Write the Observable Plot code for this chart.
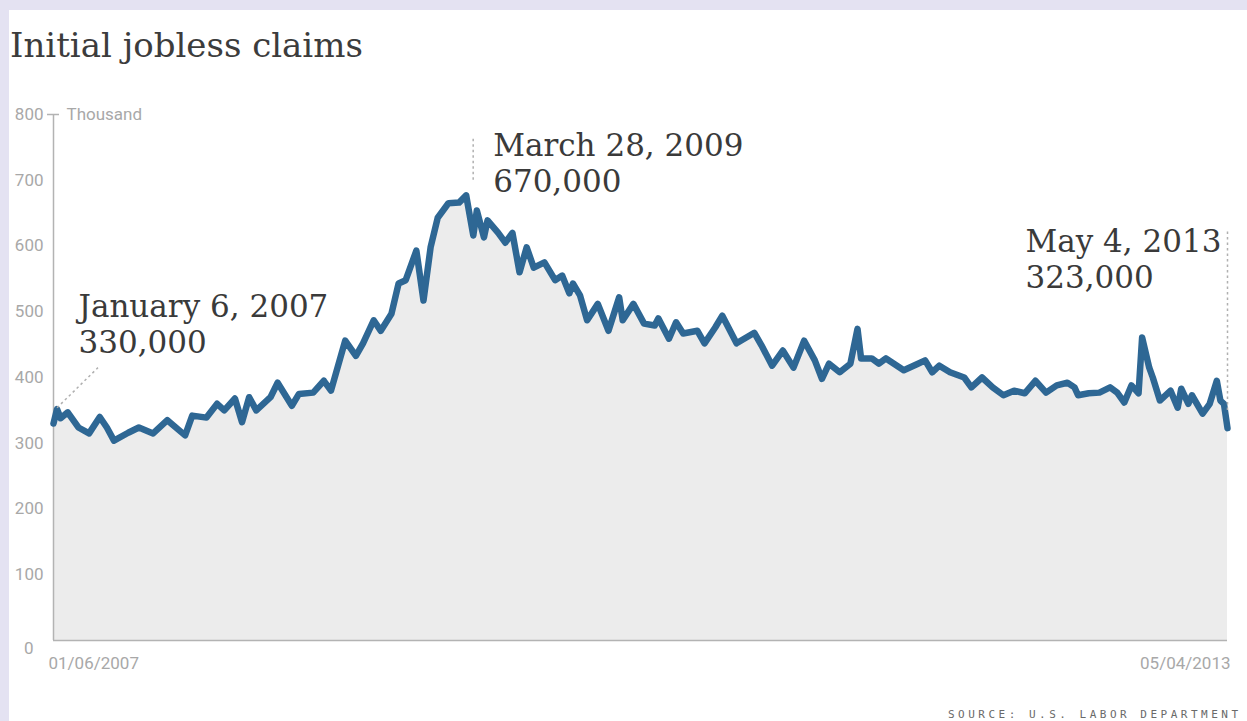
<!DOCTYPE html>
<html>
<head>
<meta charset="utf-8">
<script src="https://cdn.jsdelivr.net/npm/d3@7"></script>
<script src="https://cdn.jsdelivr.net/npm/@observablehq/plot@0.6"></script>
<style>
  html, body { margin: 0; padding: 0; }
  body { background: #e4e2f2; width: 1247px; height: 721px; overflow: hidden; position: relative; }
  #card { position: absolute; left: 9px; top: 10px; width: 1238px; height: 711px; background: #ffffff; }
  #title { position: absolute; left: 1px; top: 18px; margin: 0; font-family: "DejaVu Serif", serif; font-weight: normal;
           font-size: 34px; line-height: 34px; color: #3c3c3c; white-space: nowrap; }
  #chart { position: absolute; left: 0; top: 80px; }
  #source { position: absolute; left: 948px; top: 709px; font-family: "DejaVu Sans Mono", monospace; font-size: 11px;
            line-height: 11px; letter-spacing: 3.5px; color: #6a6a6a; white-space: nowrap; }
</style>
</head>
<body>
<div id="card">
  <h1 id="title"></h1>
  <div id="chart"></div>
</div>
<div id="source"></div>
<script>
// ---- Data ----
const titleText = "Initial jobless claims";
const sourceText = "SOURCE: U.S. LABOR DEPARTMENT";
const unitLabel = "Thousand";
const startDate = "2007-01-06"; // first weekly observation
// week offsets (weeks since startDate) of the sampled points
const weeks = [0,1,2,4,7,10,13,15,17,21,24,28,32,37,39,43,46,48,51,53,55,57,61,63,67,69,73,76,78,82,85,87,90,92,95,97,99,102,104,106,108,111,114,116,118,119,121,122,125,127,129,131,133,135,138,141,143,145,146,148,150,153,156,159,160,163,166,169,170,173,175,177,181,183,186,188,192,197,199,202,205,208,211,214,216,218,221,224,226,227,230,232,234,239,243,245,247,249,252,256,258,261,264,267,270,273,276,279,282,285,287,288,291,294,297,299,301,303,305,306,308,309,311,314,316,317,319,320,323,325,327,328,329,330];
// initial jobless claims, thousands
const claims = [330,352,338,347,324,315,340,324,304,316,324,315,335,312,342,339,360,350,368,332,370,350,370,392,357,375,377,395,380,456,433,452,487,471,497,543,548,593,517,598,643,665,666,677,616,654,613,639,620,605,620,560,598,567,575,548,555,528,543,525,487,512,471,522,487,512,482,479,490,459,484,467,471,452,476,494,452,468,449,418,441,415,456,426,398,421,408,421,474,429,429,421,429,411,421,426,408,418,408,400,385,400,385,373,380,376,395,377,388,392,385,373,376,377,385,377,362,388,376,461,415,400,365,380,354,383,360,373,345,360,395,365,360,323];
const yTicks = [100,200,300,400,500,600,700,800];
const yZeroTick = [0];
const xTickLabels = ["01/06/2007", "05/04/2013"];
const xTickWeeks = [0, 330];
const annotWeeks = [0, 116, 330];
const annotValues = [330, 670, 323];
const annotLabels = ["January 6, 2007\n330,000", "March 28, 2009\n670,000", "May 4, 2013\n323,000"];

// ---- Build ----
const t0 = new Date(startDate + "T00:00:00Z");
const weekDate = w => new Date(t0.getTime() + w * 7 * 864e5);
const data = weeks.map((w, i) => ({date: weekDate(w), value: claims[i]}));
const annotations = annotWeeks.map((w, i) => ({date: weekDate(w), value: annotValues[i], label: annotLabels[i]}));

document.getElementById("title").textContent = titleText;
document.getElementById("source").textContent = sourceText;

const axisGray = "#b3b3b3";
const labelGray = "#a8a8a8";
const labelFont = "'Roboto', sans-serif";
const annFont = "'DejaVu Serif', serif";
const annStyle = {fontFamily: annFont, fontSize: 31, lineHeight: 1.15, fill: "#3a3a3a", lineAnchor: "bottom", textAnchor: "start"};
const leader = {stroke: "#b0b0b0", strokeWidth: 1.5, strokeDasharray: "2.5,3"};
const yLab = {tickSize: 0, tickPadding: 10, fontSize: 17, fontFamily: labelFont, fill: labelGray, label: null};
const xLab = {tickSize: 0, tickPadding: 16, fontSize: 17, fontFamily: labelFont, fill: labelGray, label: null};

const chart = Plot.plot({
  width: 1238,
  height: 600,
  marginLeft: 44,
  marginRight: 20,
  marginTop: 24,
  marginBottom: 50,
  x: {type: "utc", domain: [weekDate(xTickWeeks[0]), weekDate(xTickWeeks[1])], label: null},
  y: {domain: [0, 800], label: null},
  style: {background: "transparent", overflow: "visible"},
  marks: [
    Plot.areaY(data, {x: "date", y: "value", fill: "#ececec"}),
    Plot.ruleY([0], {stroke: axisGray, strokeWidth: 1.5}),
    Plot.ruleX([weekDate(0)], {y1: 0, y2: 800, stroke: axisGray, strokeWidth: 1.5}),
    Plot.lineY(data, {x: "date", y: "value", stroke: "#2e6794", strokeWidth: 6.5,
                      strokeLinejoin: "round", strokeLinecap: "round"}),
    // y axis
    Plot.axisY(yTicks, yLab),
    Plot.axisY(yZeroTick, {...yLab, dx: -10, dy: 8}),
    Plot.axisY([800], {tickSize: 12, dx: 6, text: null, stroke: axisGray, strokeWidth: 1.5, label: null}),
    Plot.text([unitLabel], {x: () => weekDate(0), y: () => 800, text: d => d, dx: 13, textAnchor: "start",
                            fontSize: 17, fontFamily: labelFont, fill: labelGray}),
    // x axis labels
    Plot.axisX([weekDate(xTickWeeks[0])], {...xLab, textAnchor: "start", dx: -5, tickFormat: () => xTickLabels[0]}),
    Plot.axisX([weekDate(xTickWeeks[1])], {...xLab, textAnchor: "end", dx: 3, tickFormat: () => xTickLabels[1]}),
    // annotation leaders
    Plot.link(annotations.slice(0, 1), {x1: d => weekDate(1), y1: d => d.value + 24,
                                        x2: d => weekDate(12.5), y2: d => d.value + 85, ...leader}),
    Plot.ruleX(annotations.slice(1, 2), {x: "date", y1: d => d.value + 30, y2: d => d.value + 95, dx: 7, ...leader}),
    Plot.ruleX(annotations.slice(2, 3), {x: "date", y1: d => d.value + 27, y2: d => d.value + 300, ...leader}),
    // annotation labels
    Plot.text(annotations.slice(0, 1), {x: "date", y: "value", text: "label", dx: 25, dy: -71, ...annStyle}),
    Plot.text(annotations.slice(1, 2), {x: "date", y: "value", text: "label", dx: 27, dy: -8, ...annStyle}),
    Plot.text(annotations.slice(2, 3), {x: "date", y: "value", text: "label", dx: -202, dy: -140, ...annStyle})
  ]
});
document.getElementById("chart").appendChild(chart);
</script>
</body>
</html>
